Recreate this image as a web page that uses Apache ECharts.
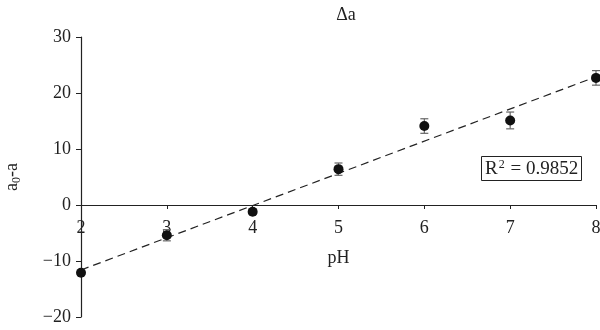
<!DOCTYPE html>
<html><head><meta charset="utf-8">
<script src="https://cdn.jsdelivr.net/npm/echarts@6/dist/echarts.min.js"></script>
<style>html,body{margin:0;padding:0;background:#fff}#c{width:600px;height:330px}</style>
</head><body><div id="c"></div>
<script>
var pH = [2, 3, 4, 5, 6, 7, 8];
var delta = [-12.1, -5.4, -1.2, 6.4, 14.1, 15.1, 22.7];
var errs = [0.4, 1.0, 0.5, 1.1, 1.3, 1.5, 1.3];
var trendX = [2, 8];
var trendY = [-11.6, 22.9];
var r2Text = '0.9852';

var F = 'Liberation Serif, Times New Roman, serif';
var chart = echarts.init(document.getElementById('c'));
var pts = pH.map(function (x, i) { return [x, delta[i]]; });
var errData = pH.map(function (x, i) { return [x, delta[i] - errs[i], delta[i] + errs[i]]; });
var trend = trendX.map(function (x, i) { return [x, trendY[i]]; });

chart.setOption({
  animation: false,
  title: [{
    text: 'Δa', left: 341, top: 1, textAlign: 'center',
    textStyle: { fontFamily: F, fontSize: 18, fontWeight: 'normal', color: '#222' }
  }, {
    text: '{n|R}{s|2}{n| = ' + r2Text + '}', left: 481, top: 156,
    borderColor: '#222', borderWidth: 1, padding: [3, 4, 2, 4],
    textStyle: { fontWeight: 'normal', rich: {
      n: { fontFamily: F, fontSize: 19, fontWeight: 'normal', color: '#222' },
      s: { fontFamily: F, fontSize: 12, fontWeight: 'normal', color: '#222', verticalAlign: 'top', padding: [0, 1, 8, 1] }
    } }
  }],
  grid: { left: 81, right: 4, top: 37, bottom: 13, containLabel: false, outerBoundsMode: 'none' },
  xAxis: {
    type: 'value', min: 2, max: 8, interval: 1,
    name: 'pH', nameLocation: 'middle', nameGap: 44,
    nameTextStyle: { fontFamily: F, fontSize: 18, color: '#222' },
    position: 'bottom', offset: -112,
    axisLine: { onZero: false, lineStyle: { color: '#222', width: 1.2 } },
    axisTick: { show: true, length: 4, lineStyle: { color: '#222' } },
    axisLabel: { fontFamily: F, fontSize: 18, color: '#222', margin: 14 },
    splitLine: { show: false }
  },
  yAxis: {
    type: 'value', min: -20, max: 30, interval: 10,
    name: '{n|a}{s|0}{n|-a}', nameLocation: 'middle', nameGap: 58,
    nameTextStyle: { rich: {
      n: { fontFamily: F, fontSize: 18, color: '#222' },
      s: { fontFamily: F, fontSize: 12, color: '#222', verticalAlign: 'bottom', padding: [9, 0, 0, 0] }
    } },
    axisLine: { show: true, onZero: false, lineStyle: { color: '#222', width: 1.2 } },
    axisTick: { show: true, length: 5, lineStyle: { color: '#222' } },
    axisLabel: { fontFamily: F, fontSize: 18, color: '#222', margin: 10,
      formatter: function (v) { return String(v).replace('-', '\u2212'); } },
    splitLine: { show: false }
  },
  series: [{
    type: 'line', data: trend, symbol: 'none',
    lineStyle: { color: '#222', width: 1.2, type: [8, 5] }, z: 1
  }, {
    type: 'custom', data: errData, z: 2,
    renderItem: function (params, api) {
      var x = api.value(0);
      var lo = api.coord([x, api.value(1)]);
      var hi = api.coord([x, api.value(2)]);
      var w = 4;
      var st = { stroke: '#666', lineWidth: 1.2 };
      return { type: 'group', children: [
        { type: 'line', shape: { x1: lo[0], y1: lo[1], x2: hi[0], y2: hi[1] }, style: st },
        { type: 'line', shape: { x1: lo[0] - w, y1: lo[1], x2: lo[0] + w, y2: lo[1] }, style: st },
        { type: 'line', shape: { x1: hi[0] - w, y1: hi[1], x2: hi[0] + w, y2: hi[1] }, style: st }
      ] };
    }
  }, {
    type: 'scatter', data: pts, symbol: 'circle', symbolSize: 10, z: 3,
    itemStyle: { color: '#111', opacity: 1 }
  }]
});
</script></body></html>
